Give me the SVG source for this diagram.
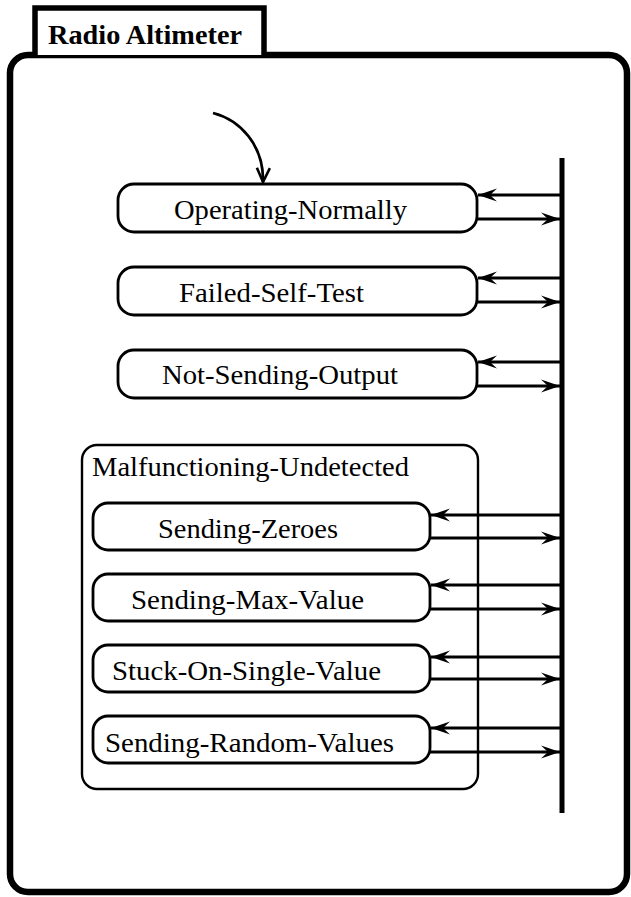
<svg xmlns="http://www.w3.org/2000/svg" width="631" height="897" viewBox="0 0 631 897">
<defs>
<style>
.frame{fill:none;stroke:#000;stroke-width:6.5}
.tab{fill:#fff;stroke:#000;stroke-width:5.5}
.state{fill:#fff;stroke:#000;stroke-width:2.8}
.super{fill:none;stroke:#000;stroke-width:2.4}
.lbl{font-family:"Liberation Serif","Times New Roman",serif;font-size:28px;fill:#000}
.title{font-family:"Liberation Serif","Times New Roman",serif;font-size:28px;font-weight:bold;fill:#000}
.tr{fill:none;stroke:#000;stroke-width:3;marker-end:url(#ah)}
.bus{stroke:#000;stroke-width:5}
</style>
<marker id="ah" viewBox="-20 -8 21 16" refX="0" refY="0" markerWidth="21" markerHeight="16" markerUnits="userSpaceOnUse" orient="auto">
<path d="M0,0 L-19,-6.5 L-12,0 L-19,6.5 Z" fill="#000"/>
</marker>
<marker id="av" viewBox="-15 -9 16 18" refX="0" refY="0" markerWidth="16" markerHeight="18" markerUnits="userSpaceOnUse" orient="auto">
<path d="M-14,-6.5 L0,0 L-14,6.5" fill="none" stroke="#000" stroke-width="2.6"/>
</marker>
</defs>

<g id="radio-altimeter">
<rect class="frame" x="10" y="55" width="617" height="837" rx="18" ry="18"/>
<path class="tab" d="M35,55 V8 H264 V55"/>
<text class="title" x="48" y="44" textLength="194" lengthAdjust="spacingAndGlyphs">Radio Altimeter</text>
</g>

<g id="operating-normally">
<rect class="state" x="118" y="184" width="359" height="48" rx="16" ry="16"/>
<text class="lbl" x="174" y="219" textLength="233" lengthAdjust="spacingAndGlyphs">Operating-Normally</text>
</g>
<g id="failed-self-test">
<rect class="state" x="118" y="267" width="359" height="48" rx="16" ry="16"/>
<text class="lbl" x="179" y="302" textLength="185" lengthAdjust="spacingAndGlyphs">Failed-Self-Test</text>
</g>
<g id="not-sending-output">
<rect class="state" x="118" y="350" width="359" height="48" rx="16" ry="16"/>
<text class="lbl" x="162" y="384" textLength="236" lengthAdjust="spacingAndGlyphs">Not-Sending-Output</text>
</g>

<g id="malfunctioning-undetected">
<rect class="super" x="82" y="445" width="396" height="344" rx="15" ry="15"/>
<text class="lbl" x="92" y="476" textLength="317" lengthAdjust="spacingAndGlyphs">Malfunctioning-Undetected</text>
</g>
<g id="sending-zeroes">
<rect class="state" x="93" y="503" width="337" height="47" rx="15" ry="15"/>
<text class="lbl" x="158" y="538" textLength="180" lengthAdjust="spacingAndGlyphs">Sending-Zeroes</text>
</g>
<g id="sending-max-value">
<rect class="state" x="93" y="574" width="337" height="47" rx="15" ry="15"/>
<text class="lbl" x="131" y="609" textLength="233" lengthAdjust="spacingAndGlyphs">Sending-Max-Value</text>
</g>
<g id="stuck-on-single-value">
<rect class="state" x="93" y="645" width="337" height="47" rx="15" ry="15"/>
<text class="lbl" x="112" y="680" textLength="269" lengthAdjust="spacingAndGlyphs">Stuck-On-Single-Value</text>
</g>
<g id="sending-random-values">
<rect class="state" x="93" y="716" width="337" height="47" rx="15" ry="15"/>
<text class="lbl" x="105" y="752" textLength="289" lengthAdjust="spacingAndGlyphs">Sending-Random-Values</text>
</g>

<g id="connectors">
<line class="bus" x1="562" y1="158" x2="562" y2="813"/>
<path d="M213,113 C240,120 264,145 263,182" fill="none" stroke="#000" stroke-width="2.8" marker-end="url(#av)"/>
<line class="tr" x1="560" y1="195" x2="478" y2="195"/>
<line class="tr" x1="477" y1="219" x2="560" y2="219"/>
<line class="tr" x1="560" y1="278" x2="478" y2="278"/>
<line class="tr" x1="477" y1="302" x2="560" y2="302"/>
<line class="tr" x1="560" y1="362" x2="478" y2="362"/>
<line class="tr" x1="477" y1="386" x2="560" y2="386"/>
<line class="tr" x1="560" y1="515" x2="431" y2="515"/>
<line class="tr" x1="430" y1="538" x2="560" y2="538"/>
<line class="tr" x1="560" y1="585" x2="431" y2="585"/>
<line class="tr" x1="430" y1="609" x2="560" y2="609"/>
<line class="tr" x1="560" y1="657" x2="431" y2="657"/>
<line class="tr" x1="430" y1="679" x2="560" y2="679"/>
<line class="tr" x1="560" y1="728" x2="431" y2="728"/>
<line class="tr" x1="430" y1="752" x2="560" y2="752"/>
</g>
</svg>
